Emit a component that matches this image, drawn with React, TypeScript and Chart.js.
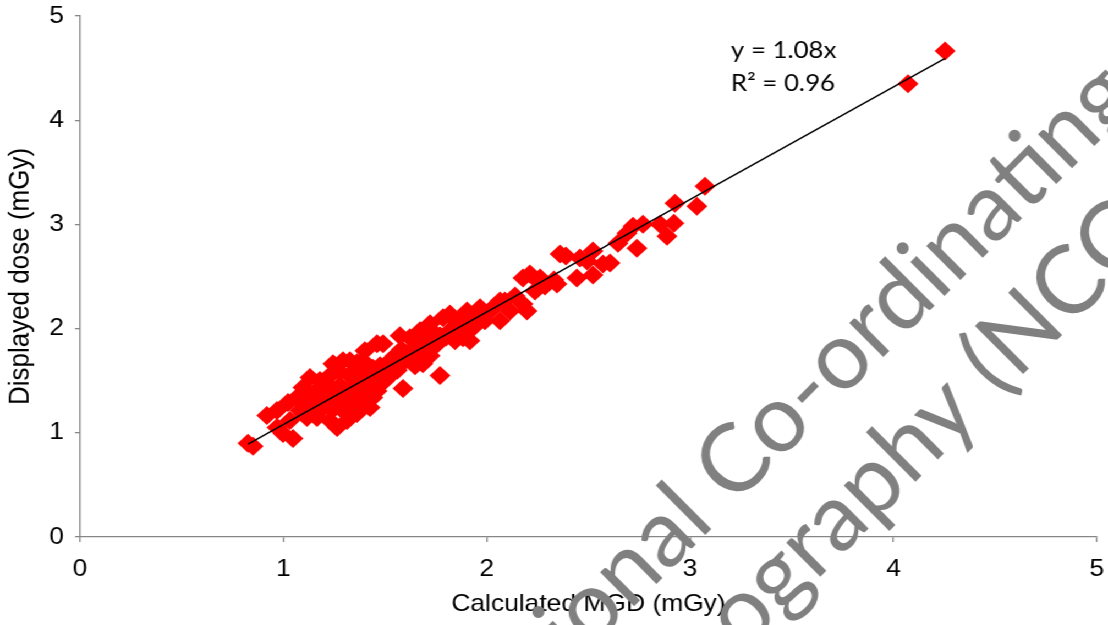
import React, { useEffect, useRef } from "react";
import { Chart, registerables } from "chart.js";

Chart.register(...registerables);

// The reference image is a chart that was stretched horizontally; we draw at an
// internal width and scale the canvas to the page width.
const PAGE_W = 1108;
const PAGE_H = 625;
const INNER_W = 1007;
const STRETCH = PAGE_W / INNER_W;

const xTickValues = [0, 1, 2, 3, 4, 5];
const yTickValues = [0, 1, 2, 3, 4, 5];
const xTitle = "Calculated MGD (mGy)";
const yTitle = "Displayed dose (mGy)";
const trendSlope = 1.08;
const trendLabels = ["y = 1.08x", "R\u00b2 = 0.96"];
const watermarkLines = [
  "National Co-ordinating Centre for the",
  "Physics of Mammography (NCCPM)",
];

const calculatedMGD = [
  0.826, 0.851, 0.919, 0.969, 0.998, 1.047, 0.969, 1.023, 1.067, 1.096,
  1.131, 1.116, 1.165, 1.229, 1.082, 1.155, 1.205, 1.18, 1.229, 1.264,
  1.313, 1.362, 1.426, 1.278, 1.303, 1.254, 1.293, 1.244, 1.362, 1.391,
  1.352, 1.401, 1.391, 1.44, 1.45, 1.46, 1.49, 1.5, 1.524, 1.573,
  1.622, 1.588, 1.549, 1.598, 1.647, 1.672, 1.721, 1.686, 1.77, 1.745,
  1.819, 1.794, 1.844, 1.883, 1.917, 1.785, 1.868, 1.868, 1.932, 1.903,
  1.967, 2.016, 2.065, 2.114, 2.178, 2.198, 2.178, 2.212, 2.262, 2.257,
  2.33, 2.345, 2.36, 2.389, 2.443, 2.458, 2.493, 2.522, 2.522, 2.571,
  2.606, 2.645, 2.689, 2.719, 2.738, 2.768, 2.852, 2.886, 2.92, 2.925,
  3.033, 3.073, 4.071, 4.253,
  1.032, 1.082, 1.131, 1.18, 1.229, 1.278, 1.327, 1.377, 1.426, 1.475,
  1.524, 1.573, 1.622, 1.672, 1.721, 1.77, 1.18, 1.303, 1.352, 1.5,
  1.549, 1.327, 1.401, 1.45, 1.647, 1.721, 1.819, 1.844, 1.917, 1.991,
  2.04, 2.089, 2.139, 2.237, 2.286, 2.065,
  1.1, 1.14, 1.2, 1.24, 1.26, 1.3, 1.32, 1.34, 1.36, 1.38,
  1.4, 1.42, 1.44, 1.46, 1.48, 1.52, 1.54, 1.56, 1.58, 1.6,
  1.62, 1.66, 1.68, 1.7, 1.74, 1.76, 1.8, 1.86, 1.9, 1.96,
  1.28, 1.22, 1.16, 1.12, 1.34, 1.4,
];

const displayedDose = [
  0.899, 0.87, 1.166, 1.214, 0.994, 0.946, 1.052, 1.291, 1.338, 1.434,
  1.53, 1.147, 1.147, 1.119, 1.214, 1.31, 1.358, 1.501, 1.549, 1.052,
  1.119, 1.185, 1.243, 1.262, 1.405, 1.644, 1.692, 1.663, 1.673, 1.692,
  1.501, 1.358, 1.281, 1.338, 1.453, 1.855, 1.855, 1.644, 1.549, 1.931,
  1.912, 1.424, 1.74, 1.692, 1.788, 1.979, 2.046, 1.663, 1.549, 1.836,
  2.141, 1.931, 1.883, 1.912, 1.883, 2.103, 2.075, 1.979, 2.008, 2.17,
  2.199, 2.17, 2.266, 2.17, 2.237, 2.17, 2.486, 2.524, 2.486, 2.447,
  2.467, 2.428, 2.715, 2.696, 2.486, 2.677, 2.648, 2.744, 2.514, 2.62,
  2.629, 2.82, 2.916, 2.983, 2.772, 3.002, 3.002, 2.887, 3.011, 3.203,
  3.174, 3.365, 4.35, 4.665,
  1.119, 1.31, 1.262, 1.358, 1.405, 1.453, 1.549, 1.501, 1.597, 1.644,
  1.692, 1.74, 1.788, 1.836, 1.883, 1.931, 1.214, 1.31, 1.358, 1.501,
  1.597, 1.692, 1.788, 1.549, 1.644, 1.74, 1.979, 2.075, 2.122, 2.075,
  2.218, 2.266, 2.314, 2.361, 2.409, 2.075,
  1.18, 1.22, 1.26, 1.22, 1.32, 1.2, 1.28, 1.42, 1.3, 1.4,
  1.46, 1.52, 1.62, 1.4, 1.5, 1.62, 1.66, 1.6, 1.8, 1.74,
  1.7, 1.74, 1.9, 1.8, 1.96, 1.86, 1.92, 1.98, 2.04, 2.12,
  1.58, 1.46, 1.4, 1.34, 1.58, 1.62,
];

const AXIS_FONT = "'Liberation Sans', Arial, sans-serif";
const LABEL_FONT = "Lato, 'Open Sans', sans-serif";
const AXIS_GREY = "#868686";

const trendLabelPlugin = {
  id: "trendLabel",
  afterDatasetsDraw(chart: any) {
    const { ctx, scales } = chart;
    ctx.save();
    ctx.font = `23.5px ${LABEL_FONT}`;
    ctx.fillStyle = "#000";
    ctx.textAlign = "left";
    ctx.textBaseline = "alphabetic";
    const x = scales.x.getPixelForValue(3.2);
    ctx.fillText(trendLabels[0], x, scales.y.getPixelForValue(4.6));
    ctx.fillText(trendLabels[1], x, scales.y.getPixelForValue(4.28));
    ctx.restore();
  },
};

const watermarkPlugin = {
  id: "watermark",
  afterDraw(chart: any) {
    const { ctx } = chart;
    ctx.save();
    ctx.scale(1 / STRETCH, 1);
    ctx.rotate(-Math.PI / 4);
    ctx.font = `95px ${LABEL_FONT}`;
    ctx.fillStyle = "#808080";
    ctx.textAlign = "left";
    ctx.textBaseline = "alphabetic";
    const pre1 = ctx.measureText("National ").width;
    ctx.fillText(watermarkLines[0], 160 - pre1, 877);
    const pre2 = ctx.measureText("Physics of Mammography ").width;
    ctx.fillText(watermarkLines[1], 425 - pre2, 988);
    ctx.restore();
  },
};

const zeroPadding = (s: any) => {
  s.paddingTop = 0;
  s.paddingBottom = 0;
  s.paddingLeft = 0;
  s.paddingRight = 0;
};

export default function App() {
  const canvasRef = useRef<HTMLCanvasElement | null>(null);

  useEffect(() => {
    const canvas = canvasRef.current;
    if (!canvas) return;
    const points = calculatedMGD.map((x, i) => ({ x, y: displayedDose[i] }));
    const xMin = Math.min(...calculatedMGD);
    const xMax = Math.max(...calculatedMGD);
    const trend = [
      { x: xMin, y: trendSlope * xMin },
      { x: xMax, y: trendSlope * xMax },
    ];

    const chart = new Chart(canvas, {
      type: "scatter",
      data: {
        datasets: [
          {
            type: "line",
            data: trend,
            borderColor: "#000000",
            borderWidth: 1.5,
            pointRadius: 0,
            fill: false,
            order: 0,
          } as any,
          {
            type: "scatter",
            data: points,
            pointStyle: "rectRot",
            pointRadius: 9.5,
            pointHoverRadius: 9.5,
            backgroundColor: "#ff0000",
            borderColor: "#ff0000",
            borderWidth: 0,
            order: 1,
          } as any,
        ],
      },
      options: {
        responsive: false,
        animation: false,
        devicePixelRatio: 1,
        events: [],
        layout: { padding: { top: 16, right: INNER_W - 1097 / STRETCH, left: 0, bottom: 0 } },
        plugins: {
          legend: { display: false },
          tooltip: { enabled: false },
        },
        scales: {
          x: {
            type: "linear",
            min: 0,
            max: 5,
            afterBuildTicks: (s: any) => {
              s.ticks = xTickValues.map((v) => ({ value: v }));
            },
            ticks: {
              color: "#000",
              font: { family: AXIS_FONT, size: 24 },
              padding: 12.8,
            },
            grid: {
              drawOnChartArea: false,
              drawTicks: true,
              tickLength: 5,
              color: AXIS_GREY,
              lineWidth: 1.3,
            },
            border: { color: AXIS_GREY, width: 1.3 },
            title: {
              display: true,
              text: xTitle,
              color: "#000",
              font: { family: AXIS_FONT, size: 24 },
              padding: { top: 0, bottom: 6.6 },
            },
            afterFit: (s: any) => {
              s.height = PAGE_H - 537;
              zeroPadding(s);
            },
          },
          y: {
            type: "linear",
            min: 0,
            max: 5,
            afterBuildTicks: (s: any) => {
              s.ticks = yTickValues.map((v) => ({ value: v }));
            },
            ticks: {
              color: "#000",
              font: { family: AXIS_FONT, size: 24 },
              padding: 10,
            },
            grid: {
              drawOnChartArea: false,
              drawTicks: true,
              tickLength: 4.5,
              color: AXIS_GREY,
              lineWidth: 1.3,
            },
            border: { color: AXIS_GREY, width: 1.3 },
            title: {
              display: true,
              text: yTitle,
              color: "#000",
              font: { family: AXIS_FONT, size: 26 },
              padding: { top: 3, bottom: 0 },
            },
            afterFit: (s: any) => {
              s.width = 80 / STRETCH;
              zeroPadding(s);
            },
          },
        },
      } as any,
      plugins: [trendLabelPlugin, watermarkPlugin],
    });

    return () => chart.destroy();
  }, []);

  return (
    <div
      style={{
        position: "absolute",
        left: 0,
        top: 0,
        width: INNER_W,
        height: PAGE_H,
        transform: `scaleX(${STRETCH})`,
        transformOrigin: "0 0",
        background: "#fff",
      }}
    >
      <canvas ref={canvasRef} width={INNER_W} height={PAGE_H} />
    </div>
  );
}
